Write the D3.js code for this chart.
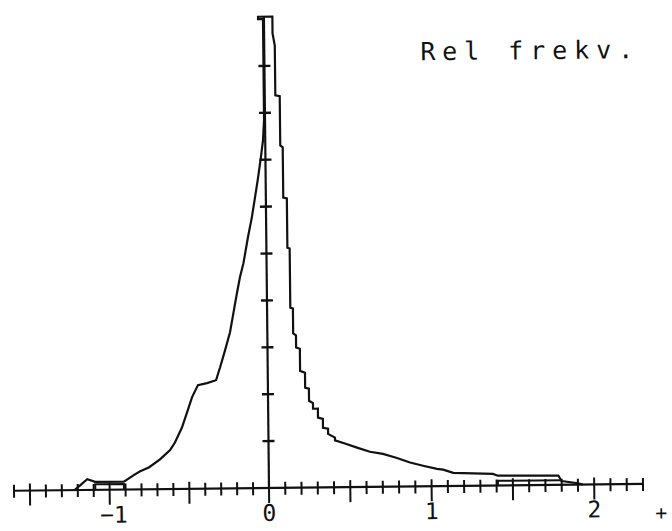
<!DOCTYPE html>
<html>
<head>
<meta charset="utf-8">
<script src="https://cdn.jsdelivr.net/npm/d3@7"></script>
<style>
  html, body { margin: 0; padding: 0; background: #fff; }
  svg { display: block; }
</style>
</head>
<body>
<svg id="chart" width="672" height="531"></svg>
<script>
// Relative frequency curve (histogram traced as a line), values in axis units
const curveX = [
  -1.22, -1.14, -1.09, -0.91, -0.85, -0.81, -0.75, -0.68, -0.618, -0.587,
  -0.542, -0.509, -0.477, -0.439, -0.382, -0.325, -0.299, -0.267, -0.234, -0.208,
  -0.188, -0.168, -0.145, -0.115, -0.089, -0.068, -0.048, -0.028, -0.014, -0.006,
  -0.006, -0.037, -0.037, 0.052,
  0.052, 0.052, 0.065, 0.065, 0.092, 0.092, 0.107, 0.107, 0.129, 0.129,
  0.143, 0.143, 0.159, 0.159, 0.176, 0.176, 0.199, 0.199, 0.229, 0.229,
  0.252, 0.252, 0.276, 0.276, 0.306, 0.306, 0.336, 0.336, 0.367, 0.367,
  0.409, 0.409,
  0.470, 0.544, 0.623, 0.703, 0.789, 0.869, 0.949, 1.034, 1.072, 1.134,
  1.378, 1.408, 1.78, 1.80, 1.90, 1.93
];
const curveY = [
  0.00, 0.23, 0.17, 0.17, 0.30, 0.38, 0.47, 0.64, 0.83, 0.99,
  1.31, 1.63, 1.95, 2.21, 2.25, 2.31, 2.58, 2.94, 3.33, 3.80,
  4.16, 4.50, 4.80, 5.35, 5.78, 6.20, 6.61, 7.06, 7.42, 7.85,
  10.00, 10.00, 10.05, 10.05,
  10.05, 9.69, 9.43, 8.37, 8.35, 7.30, 7.26, 6.19, 6.17, 5.12,
  5.10, 3.84, 3.82, 3.29, 3.25, 2.99, 2.96, 2.49, 2.45, 2.13,
  2.11, 1.85, 1.80, 1.68, 1.68, 1.49, 1.46, 1.27, 1.25, 1.14,
  1.06, 1.00,
  0.93, 0.84, 0.75, 0.70, 0.61, 0.51, 0.44, 0.37, 0.35, 0.28,
  0.25, 0.21, 0.20, 0.08, 0.03, 0.00
];

// Low boxes in the two tails
const leftBoxX = [-1.09, -1.09, -0.91, -0.91];
const leftBoxY = [0.00, 0.12, 0.12, 0.00];
const rightBoxX = [1.408, 1.408, 1.80];
const rightBoxY = [0.00, 0.10, 0.10];

// Axis ranges, ticks and labels
const xMin = -1.6, xMax = 2.3;
const xMinorStep = 0.1;
const xTickLabelValues = [-1, 0, 1, 2];
const xTickLabels = ["−1", "0", "1", "2"];
const yTickValues = [1, 2, 3, 4, 5, 6, 7, 8, 9];
const yAxisTop = 10.05;
const titleText = "Rel frekv.";

const svg = d3.select("#chart");
svg.append("rect").attr("width", 672).attr("height", 531).attr("fill", "#fff");

const x = d3.scaleLinear().domain([xMin, 0, xMax]).range([14, 269, 643]);
const y = d3.scaleLinear().domain([0, 10]).range([488, 19]);

// the plotted sheet sits slightly skewed
const g = svg.append("g").attr("transform", "rotate(-0.62 269 488)");

const ink = "#111";
const mono = "'DejaVu Sans Mono', 'Liberation Mono', monospace";

// x axis
g.append("line")
  .attr("x1", x(xMin)).attr("x2", x(xMax))
  .attr("y1", y(0)).attr("y2", y(0))
  .attr("stroke", ink).attr("stroke-width", 2.2);

const nMinor = Math.round((xMax - xMin) / xMinorStep);
const minorTicks = d3.range(nMinor + 1).map(i => +(xMin + i * xMinorStep).toFixed(2));
g.append("g").selectAll("line").data(minorTicks).join("line")
  .attr("x1", d => x(d)).attr("x2", d => x(d))
  .attr("y1", d => y(0) - (Math.abs(Math.round(d * 10)) % 5 === 0 ? 7 : 6))
  .attr("y2", d => y(0) + (Math.abs(Math.round(d * 10)) % 5 === 0 ? 15 : 7))
  .attr("stroke", ink).attr("stroke-width", 2);

// y axis
g.append("line")
  .attr("x1", x(0)).attr("x2", x(0))
  .attr("y1", y(0)).attr("y2", y(yAxisTop))
  .attr("stroke", ink).attr("stroke-width", 2.2);
g.append("g").selectAll("line").data(yTickValues).join("line")
  .attr("x1", x(0) - 6).attr("x2", x(0) + 6)
  .attr("y1", d => y(d)).attr("y2", d => y(d))
  .attr("stroke", ink).attr("stroke-width", 2.4);

// x tick labels
g.append("g").selectAll("text").data(xTickLabelValues).join("text")
  .attr("x", d => x(d) + (d < 0 ? 4 : 0))
  .attr("y", 521)
  .attr("text-anchor", "middle")
  .attr("font-family", mono)
  .attr("font-size", 23)
  .attr("fill", ink)
  .text((d, i) => xTickLabels[i]);

// curve
const line = d3.line().x(d => x(d[0])).y(d => y(d[1]));
g.append("path")
  .datum(d3.zip(curveX, curveY))
  .attr("d", line)
  .attr("fill", "none").attr("stroke", ink)
  .attr("stroke-width", 2.2).attr("stroke-linejoin", "miter");

[[leftBoxX, leftBoxY], [rightBoxX, rightBoxY]].forEach(([bx, by]) => {
  g.append("path")
    .datum(d3.zip(bx, by))
    .attr("d", line)
    .attr("fill", "none").attr("stroke", ink).attr("stroke-width", 2);
});

// title
g.append("text")
  .attr("x", 425).attr("y", 62)
  .attr("font-family", mono)
  .attr("font-size", 25)
  .attr("textLength", 213)
  .attr("lengthAdjust", "spacing")
  .attr("fill", ink)
  .text(titleText);

// axis continuation mark at the right edge
g.append("text")
  .attr("x", 661).attr("y", 524)
  .attr("text-anchor", "middle")
  .attr("font-family", mono)
  .attr("font-size", 20)
  .attr("fill", ink)
  .text("+");
</script>
</body>
</html>
